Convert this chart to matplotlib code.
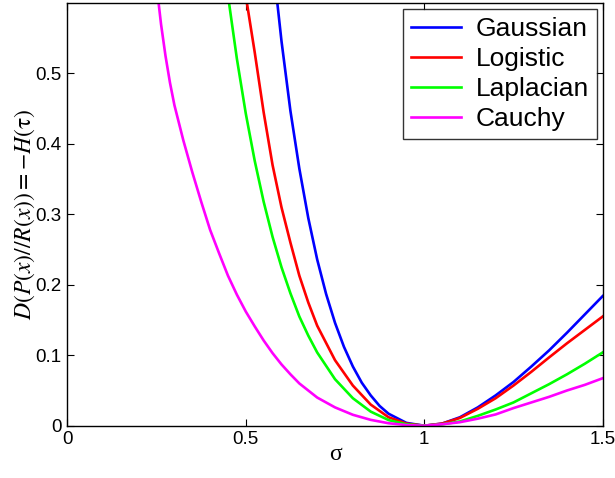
import matplotlib
matplotlib.use("Agg")
import matplotlib.pyplot as plt

# sigma values and divergence (bits), per curve
gauss_sigma = [0.55, 0.575, 0.6, 0.625, 0.65, 0.675, 0.7, 0.725, 0.75, 0.775, 0.8, 0.825,
               0.85, 0.875, 0.9, 0.95, 1.0,
               1.05, 1.1, 1.15, 1.2, 1.25, 1.3, 1.35, 1.4, 1.45, 1.5]
gauss_d = [0.801, 0.662, 0.546, 0.447, 0.365, 0.295, 0.236, 0.187, 0.146, 0.112, 0.084, 0.061,
           0.043, 0.028, 0.017, 0.004, 0.0,
           0.003, 0.012, 0.026, 0.043, 0.062, 0.084, 0.107, 0.132, 0.158, 0.184]

logit_sigma = [0.5, 0.525, 0.55, 0.575, 0.6, 0.625, 0.65, 0.675, 0.7, 0.75, 0.8, 0.85, 0.9,
               0.95, 1.0, 1.05, 1.1, 1.15, 1.2, 1.25, 1.3, 1.35, 1.4, 1.45, 1.5]
logit_d = [0.61, 0.53, 0.445, 0.37, 0.31, 0.26, 0.213, 0.175, 0.142, 0.093, 0.057, 0.030, 0.012,
           0.003, 0.0, 0.003, 0.011, 0.024, 0.039, 0.057, 0.0765, 0.097, 0.117, 0.136, 0.155]

lap_sigma = [0.4, 0.45, 0.475, 0.5, 0.525, 0.55, 0.575, 0.6, 0.625, 0.65, 0.675, 0.7, 0.75,
             0.8, 0.85, 0.9, 0.95, 1.0,
             1.05, 1.1, 1.15, 1.2, 1.25, 1.3, 1.35, 1.4, 1.45, 1.5]
lap_d = [0.842, 0.611, 0.521, 0.443, 0.376, 0.318, 0.268, 0.225, 0.188, 0.155, 0.128, 0.104, 0.066,
         0.039, 0.020, 0.008, 0.002, 0.0,
         0.002, 0.006, 0.014, 0.023, 0.033, 0.046, 0.059, 0.073, 0.088, 0.104]

cauchy_sigma = [0.25, 0.2625, 0.275, 0.2875, 0.3, 0.325, 0.35, 0.375, 0.4, 0.425, 0.45, 0.475, 0.5,
                0.525, 0.55, 0.575, 0.6, 0.625, 0.65, 0.7, 0.75, 0.8, 0.85, 0.9, 0.95, 1.0,
                1.05, 1.1, 1.15, 1.2, 1.25, 1.3, 1.35, 1.4, 1.45, 1.5]
cauchy_d = [0.625, 0.57, 0.525, 0.487, 0.455, 0.405, 0.36, 0.318, 0.278, 0.245, 0.213, 0.186, 0.162,
            0.141, 0.121, 0.103, 0.087, 0.073, 0.060, 0.040, 0.026, 0.0155, 0.0083, 0.0035, 0.0009, 0.0,
            0.002, 0.005, 0.010, 0.016, 0.025, 0.033, 0.041, 0.050, 0.058, 0.0674]

labels = ["Gaussian", "Logistic", "Laplacian", "Cauchy"]
colors = ["#0000ff", "#ff0000", "#00ff00", "#ff00ff"]

plt.rcParams["mathtext.fontset"] = "stix"
plt.rcParams["font.family"] = ["Liberation Sans", "DejaVu Sans"]

fig = plt.figure(figsize=(6.15, 4.78), dpi=100)
ax = fig.add_axes([0.1095, 0.1094, 0.8705, 0.8843])

curves = [(gauss_sigma, gauss_d), (logit_sigma, logit_d),
          (lap_sigma, lap_d), (cauchy_sigma, cauchy_d)]
for (xs, ys), lab, col in zip(curves, labels, colors):
    ax.plot(xs, ys, color=col, lw=1.9, label=lab)

ax.set_xlim(0, 1.5)
ax.set_ylim(0, 0.6)
ax.set_xticks([0, 0.5, 1, 1.5])
ax.set_xticklabels(["0", "0.5", "1", "1.5"])
ax.set_yticks([0, 0.1, 0.2, 0.3, 0.4, 0.5])
ax.set_yticklabels(["0", "0.1", "0.2", "0.3", "0.4", "0.5"])
ax.tick_params(direction="in", top=True, right=True, length=5, width=0.8,
               labelsize=13.5, pad=4)
for sp in ax.spines.values():
    sp.set_linewidth(1.0)

ax.set_xlabel("σ", fontsize=17, family="Liberation Serif", labelpad=-3)
ax.set_ylabel(r"$D(P(x)//R(x)){=}{-}H(\mathrm{\tau})$", fontsize=17, labelpad=-1)

leg = ax.legend(loc="upper right", fontsize=19, frameon=True, fancybox=False,
                edgecolor="black", handlelength=1.9, handletextpad=0.55,
                borderaxespad=0.23, labelspacing=0.23, borderpad=0.3)
leg.get_frame().set_linewidth(1.0)

fig.savefig("out.png", dpi=100)
